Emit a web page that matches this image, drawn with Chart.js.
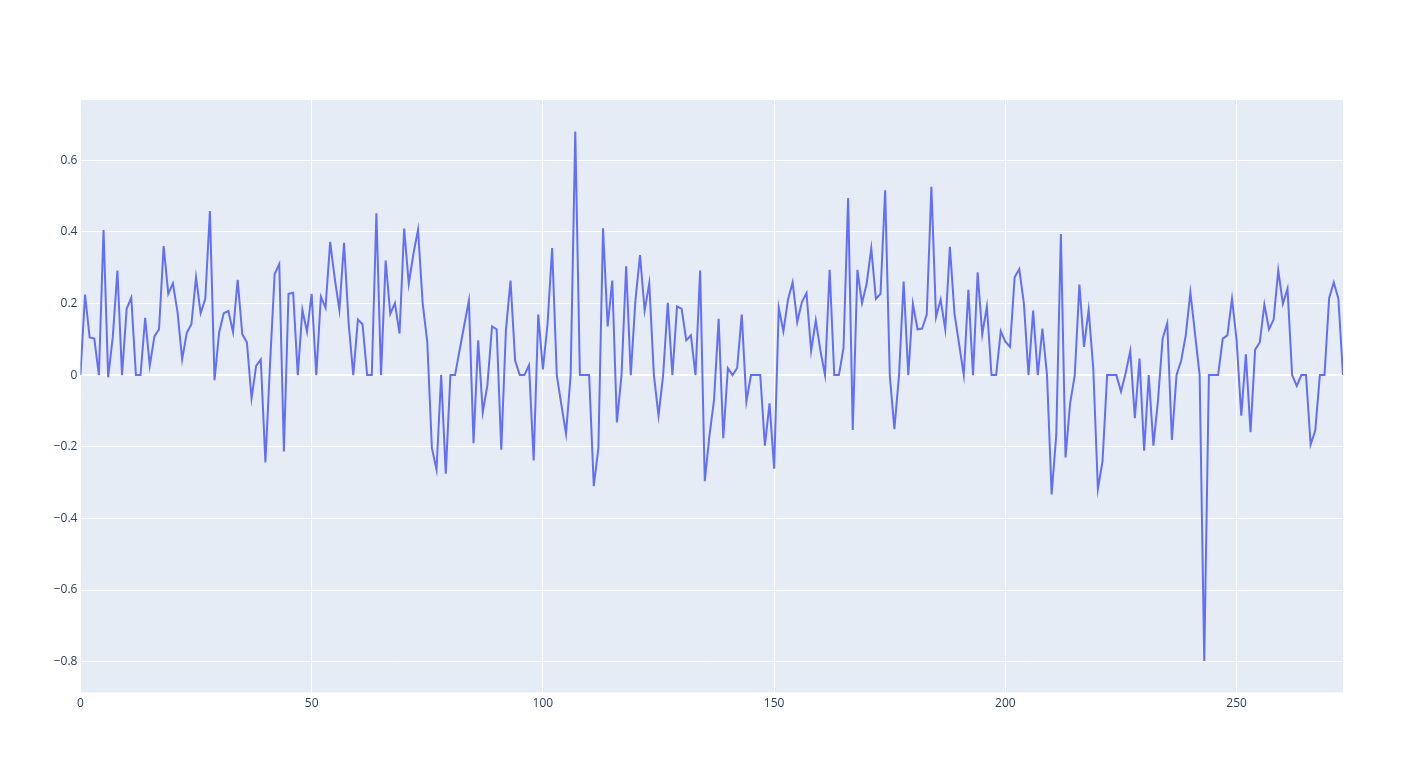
<!DOCTYPE html>
<html>
<head>
<meta charset="utf-8">
<script src="https://cdn.jsdelivr.net/npm/chart.js@4"></script>
<style>
  html, body { margin: 0; padding: 0; background: #fff; }
  #wrap { width: 1424px; height: 773px; }
</style>
</head>
<body>
<div id="wrap"><canvas id="lineChart" width="1424" height="773"></canvas></div>
<script>
// valores de la serie (índice 0..273)
const values = [
  0.0, 0.225, 0.105, 0.102, 0.0, 0.405, -0.006, 0.106, 0.292, 0.0,
  0.185, 0.216, 0.0, 0.0, 0.16, 0.026, 0.108, 0.128, 0.36, 0.227,
  0.256, 0.176, 0.044, 0.118, 0.142, 0.273, 0.173, 0.213, 0.458, -0.014,
  0.119, 0.173, 0.179, 0.12, 0.266, 0.114, 0.091, -0.065, 0.026, 0.044,
  -0.244, 0.03, 0.282, 0.31, -0.213, 0.227, 0.23, 0.0, 0.182, 0.121,
  0.227, 0.0, 0.219, 0.188, 0.372, 0.269, 0.182, 0.369, 0.144, 0.0,
  0.155, 0.142, 0.0, 0.0, 0.452, 0.0, 0.32, 0.171, 0.201, 0.116,
  0.409, 0.255, 0.338, 0.406, 0.201, 0.093, -0.204, -0.264, 0.0, -0.275,
  0.0, 0.0, 0.07, 0.14, 0.208, -0.19, 0.097, -0.104, -0.028, 0.136,
  0.128, -0.208, 0.125, 0.264, 0.04, 0.0, 0.0, 0.028, -0.238, 0.169,
  0.016, 0.142, 0.355, 0.0, -0.083, -0.164, 0.0, 0.68, 0.0, 0.0,
  0.0, -0.31, -0.204, 0.41, 0.136, 0.264, -0.132, 0.0, 0.304, 0.0,
  0.208, 0.335, 0.18, 0.256, 0.0, -0.113, 0.0, 0.202, 0.0, 0.192,
  0.185, 0.097, 0.111, 0.0, 0.292, -0.296, -0.17, -0.07, 0.157, -0.176,
  0.019, 0.0, 0.02, 0.169, -0.074, 0.0, 0.0, 0.0, -0.197, -0.079,
  -0.261, 0.188, 0.122, 0.211, 0.259, 0.148, 0.204, 0.229, 0.068, 0.153,
  0.069, 0.0, 0.294, 0.0, 0.0, 0.076, 0.494, -0.153, 0.294, 0.201,
  0.255, 0.354, 0.213, 0.227, 0.516, 0.0, -0.151, 0.0, 0.261, 0.0,
  0.199, 0.128, 0.13, 0.169, 0.526, 0.162, 0.211, 0.128, 0.358, 0.171,
  0.086, 0.0, 0.238, 0.0, 0.287, 0.114, 0.192, 0.0, 0.0, 0.123,
  0.093, 0.079, 0.273, 0.296, 0.2, 0.0, 0.18, 0.0, 0.13, 0.0,
  -0.333, -0.167, 0.394, -0.23, -0.079, 0.0, 0.253, 0.079, 0.182, 0.019,
  -0.318, -0.241, 0.0, 0.0, 0.0, -0.046, 0.005, 0.067, -0.12, 0.046,
  -0.211, 0.0, -0.197, -0.07, 0.102, 0.145, -0.181, 0.0, 0.04, 0.111,
  0.231, 0.116, 0.0, -0.798, 0.0, 0.0, 0.0, 0.102, 0.111, 0.213,
  0.097, -0.113, 0.058, -0.159, 0.071, 0.091, 0.197, 0.128, 0.155, 0.292,
  0.199, 0.241, 0.0, -0.03, 0.0, 0.0, -0.194, -0.155, 0.0, 0.0,
  0.215, 0.259, 0.213, 0.0
];

// marcas de los ejes
const xTicks = [0, 50, 100, 150, 200, 250];
const yTicks = [-0.8, -0.6, -0.4, -0.2, 0, 0.2, 0.4, 0.6];

const points = values.map((v, i) => ({ x: i, y: v }));

// fondo del área de la gráfica
const plotBg = {
  id: 'plotBg',
  beforeDraw(chart) {
    const { ctx, chartArea: a } = chart;
    ctx.save();
    ctx.fillStyle = '#E5ECF6';
    ctx.fillRect(a.left, a.top, a.right - a.left, a.bottom - a.top);
    ctx.restore();
  }
};

function fmt(v) {
  const s = String(Math.round(v * 10) / 10);
  return s.replace('-', '\u2212');
}

function initChart() {
  const ctx = document.getElementById('lineChart').getContext('2d');
  new Chart(ctx, {
    type: 'line',
    data: {
      datasets: [{
        data: points,
        borderColor: '#636EFA',
        borderWidth: 2,
        pointRadius: 0,
        tension: 0,
        fill: false
      }]
    },
    options: {
      responsive: false,
      animation: false,
      layout: { padding: { top: 100, right: 81, bottom: 0, left: 0 } },
      plugins: { legend: { display: false }, tooltip: { enabled: false } },
      scales: {
        x: {
          type: 'linear',
          min: 0,
          max: 273,
          afterBuildTicks: s => { s.ticks = xTicks.map(v => ({ value: v })); },
          afterFit: s => { s.height = 80.5; },
          grid: { color: '#ffffff', lineWidth: 1, drawTicks: false },
          border: { display: false },
          ticks: {
            padding: 4,
            color: '#2a3f5f',
            font: { family: 'Open Sans', size: 12 },
            maxRotation: 0
          }
        },
        y: {
          min: -0.886,
          max: 0.768,
          afterBuildTicks: s => { s.ticks = yTicks.map(v => ({ value: v })); },
          afterFit: s => { s.width = 80.4; },
          grid: {
            color: '#ffffff',
            lineWidth: c => (c.tick && c.tick.value === 0 ? 2 : 1),
            drawTicks: false
          },
          border: { display: false },
          ticks: {
            padding: 3,
            color: '#2a3f5f',
            font: { family: 'Open Sans', size: 12 },
            callback: v => fmt(v)
          }
        }
      }
    },
    plugins: [plotBg]
  });
}

document.addEventListener('DOMContentLoaded', initChart);
</script>
</body>
</html>
